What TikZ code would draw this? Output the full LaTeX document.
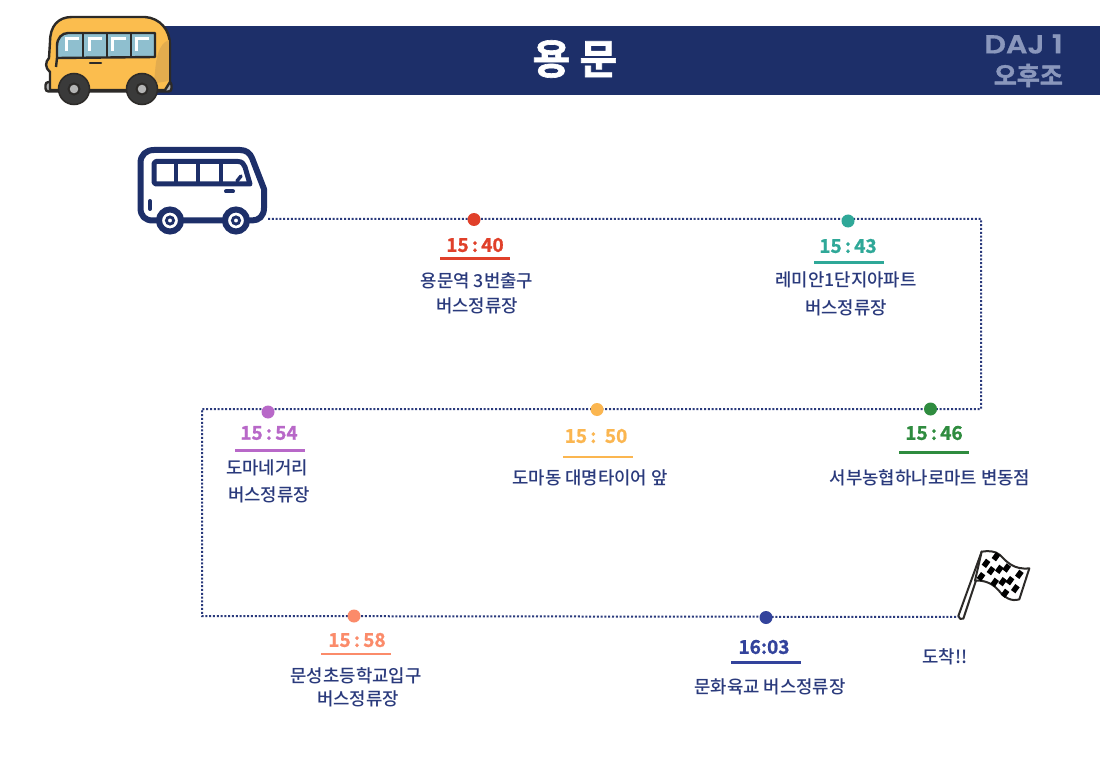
\documentclass[tikz,border=0pt]{standalone}
\usepackage{fontspec}
\setmainfont{Noto Sans CJK KR}
\newfontfamily\krmed{Noto Sans CJK KR Medium}
\newfontfamily\krbold{Noto Sans CJK KR Bold}[FakeBold=1.0]
\newfontfamily\krblack{Noto Sans CJK KR Bold}[FakeBold=1.6]
\newfontfamily\latblack{Poppins}[UprightFont=* SemiBold,FakeStretch=1.16,FakeBold=0.8]
\definecolor{navy}{HTML}{1D2F69}
\definecolor{routeblue}{HTML}{2A3A7C}
\definecolor{dajgrey}{HTML}{8A97BC}
\definecolor{cred}{HTML}{E0402A}
\definecolor{cteal}{HTML}{2FA898}
\definecolor{cgreen}{HTML}{2F8C3F}
\definecolor{corange}{HTML}{FBB650}
\definecolor{cpurple}{HTML}{B868C8}
\definecolor{csalmon}{HTML}{FB8B6A}
\definecolor{cblue}{HTML}{33439C}
\definecolor{ybus}{HTML}{FBBD4E}
\definecolor{ybusd}{HTML}{E3AC4E}
\definecolor{glass}{HTML}{8FBFCF}
\definecolor{bline}{HTML}{2C2A28}
\definecolor{wheel}{HTML}{3A3A3A}
\definecolor{hub}{HTML}{B4B4B4}
\tikzset{
  stopdot/.style={circle,fill=#1,inner sep=0pt,minimum size=13pt,draw=none},
  timelabel/.style={text=#1,font=\krbold\fontsize{19}{20}\selectfont,inner sep=0pt,anchor=center},
  rule/.style={draw=#1,line width=2.8pt},
  addr/.style={text=routeblue,font=\krmed\fontsize{17.8}{24}\selectfont,align=center,inner sep=0pt,anchor=center},
  route/.style={draw=routeblue,line width=2pt,dash pattern=on 2pt off 1.8pt},
  buso/.style={draw=navy,line width=6pt,line join=round},
  ylo/.style={draw=bline,line width=2.4pt,line join=round}
}
\begin{document}
\begin{tikzpicture}[x=1pt,y=-1pt]
\useasboundingbox (0,0) rectangle (1100,778);
\fill[white] (0,0) rectangle (1100,778);
% header
\fill[navy] (155,26) rectangle (1100,95.5);
\node[text=white,font=\krblack\fontsize{41}{44}\selectfont,inner sep=0pt] (title) at (575,59) {용 문};
\node[text=dajgrey,font=\latblack\fontsize{26}{28}\selectfont,inner sep=0pt,anchor=east] (daj) at (1063,44) {DAJ 1};
\node[text=dajgrey,font=\krblack\fontsize{25}{28}\selectfont,inner sep=0pt,anchor=east] (shift) at (1063,75.5) {오후조};
% yellow bus
\draw[ylo,fill=hub,rounded corners=3pt] (45.5,82) rectangle (171.5,91.5);
\draw[ylo,fill=ybus] (50,90) -- (50,72) .. controls (45,68) and (45,62) .. (49,58) -- (50,42)
  .. controls (50,26) and (58,17) .. (72,17) -- (145,17) .. controls (160,18) and (170,30) .. (170,45) -- (170,82) -- (165,90) -- cycle;
\fill[ybusd] (168.8,40) .. controls (158,44) and (156,60) .. (155,72) .. controls (155,78) and (153,82) .. (150,84) -- (168.8,81) -- cycle;
\draw[ylo,fill=glass] (57,58) -- (57,46) .. controls (57,38) and (62,33) .. (68,33) -- (155,33) -- (155,57) -- cycle;
\draw[ylo] (57,58) -- (56,67);
\draw[ylo] (83,33) -- (83,57) (107,33) -- (107,57) (131,33) -- (131,57);
\foreach \wx in {66,89,112.5,136}
  \draw[white,line width=3pt] (\wx,51) -- (\wx,38.5) -- (\wx+13,38.5);
\draw[bline,line width=2.5pt,line cap=round] (90,63) -- (101,63);
\foreach \wx in {74,142}{
  \draw[bline,line width=1.5pt,fill=wheel] (\wx,89) circle (15.5);
  \draw[bline,line width=2pt,fill=hub] (\wx,89) circle (5.5);
}
% outline bus
\node[inner sep=0pt,minimum width=128pt,minimum height=76pt] (startbus) at (203,185) {};
\draw[buso] (153,220.5) .. controls (145,220.5) and (140.5,216) .. (140.5,208) -- (140.5,163)
  .. controls (140.5,155) and (146,150) .. (154,150) -- (240,150) .. controls (246,150) and (250,153) .. (252,158)
  -- (264,189) -- (264,208) .. controls (264,216) and (259,220.5) .. (252,220.5) -- cycle;
\draw[buso,line width=5pt] (156,161.5) -- (238,161.5) .. controls (242,161.5) and (244,164) .. (245,167) -- (250,184) -- (156,184) .. controls (154,184) and (154,182) .. (154,180) -- (154,166) .. controls (154,164) and (154,161.5) .. (156,161.5) -- cycle;
\draw[navy,line width=4pt] (176,162) -- (176,184) (198,162) -- (198,184) (221,162) -- (221,184);
\draw[navy,line width=3.5pt,line cap=round] (237,181) -- (241,176);
\draw[navy,line width=4pt,line cap=round] (226,191.5) -- (233,191.5);
\draw[navy,line width=4pt,line cap=round] (150,201) -- (150,209);
\foreach \wx in {170,236}{
  \draw[navy,line width=6pt,fill=white] (\wx,220.5) circle (11);
  \draw[navy,line width=2.8pt,fill=white] (\wx,220.5) circle (3.6);
}
% flag
\begin{scope}[shift={(900,530)},x=.3333pt,y=-.3333pt]
\draw[bline,line width=2pt,fill=white,line join=round] (245,65) -- (175,258) .. controls (176,266) and (184,270) .. (190,266) -- (250,85) -- cycle;
\draw[bline,line width=2pt,fill=white,line join=round] (245,65) .. controls (265,62) and (285,62) .. (300,75) .. controls (320,95) and (340,120) .. (388,115)
  -- (358,208) .. controls (335,215) and (315,205) .. (295,180) .. controls (275,158) and (250,150) .. (225,152) -- cycle;
\foreach \fx/\fy in {288/80,258/100,243/140,273/122,298/118,320/114,284/157,308/155,330/152,358/133,346/176,315/190}
  \fill[black] (\fx,\fy-14) -- (\fx+13,\fy-4) -- (\fx,\fy+14) -- (\fx-13,\fy+4) -- cycle;
\coordinate (flagfoot) at (175,261);
\end{scope}
% route corners
\coordinate (c1) at (981,219);
\coordinate (c2) at (981,409);
\coordinate (c3) at (202,409);
\coordinate (c4) at (202,616);
\coordinate (busfoot) at (268,219);
\draw[route] (busfoot) -- (c1) -- (c2) -- (c3) -- (c4) -- (flagfoot);
% stops
\node[stopdot=cred] (s1) at (474,219.5) {};
\node[stopdot=cteal] (s2) at (848,221) {};
\node[stopdot=cgreen] (s3) at (930.5,409) {};
\node[stopdot=corange] (s4) at (597,409.5) {};
\node[stopdot=cpurple] (s5) at (268,412) {};
\node[stopdot=csalmon] (s6) at (354,616) {};
\node[stopdot=cblue] (s7) at (766,617.5) {};
% times
\node[timelabel=cred] (t1) at (475,245) {15\,:\,40};
\node[timelabel=cteal] (t2) at (848,246) {15\,:\,43};
\node[timelabel=cgreen] (t3) at (934,433) {15\,:\,46};
\node[timelabel=corange] (t4) at (596,436) {15\,:\;\,50};
\node[timelabel=cpurple] (t5) at (269,433) {15\,:\,54};
\node[timelabel=csalmon] (t6) at (357,640) {15\,:\,58};
\node[timelabel=cblue] (t7) at (764,647) {16:03};
% rules
\draw[rule=cred] (440,258.5) -- (510,258.5);
\draw[rule=cteal] (814,262.5) -- (884,262.5);
\draw[rule=cgreen] (899,452.5) -- (969,452.5);
\draw[rule=corange] (563,457) -- (633,457);
\draw[rule=cpurple] (235,450.5) -- (305,450.5);
\draw[rule=csalmon] (321,654) -- (391,654);
\draw[rule=cblue] (731,662.5) -- (801,662.5);
% addresses
\node[addr] (a1a) at (477,281) {용문역 3번출구};
\node[addr] (a1b) at (477,306) {버스정류장};
\node[addr] (a2a) at (846,280) {레미안1단지아파트};
\node[addr] (a2b) at (846,308) {버스정류장};
\node[addr] (a3) at (930,478) {서부농협하나로마트 변동점};
\node[addr] (a4) at (590,478) {도마동 대명타이어 앞};
\node[addr] (a5a) at (267,468) {도마네거리};
\node[addr] (a5b) at (269,495) {버스정류장};
\node[addr] (a6a) at (356,676) {문성초등학교입구};
\node[addr] (a6b) at (358,699) {버스정류장};
\node[addr] (a7) at (770,687) {문화육교 버스정류장};
\node[addr] (a8) at (945,657) {도착!!};
\end{tikzpicture}
\end{document}
